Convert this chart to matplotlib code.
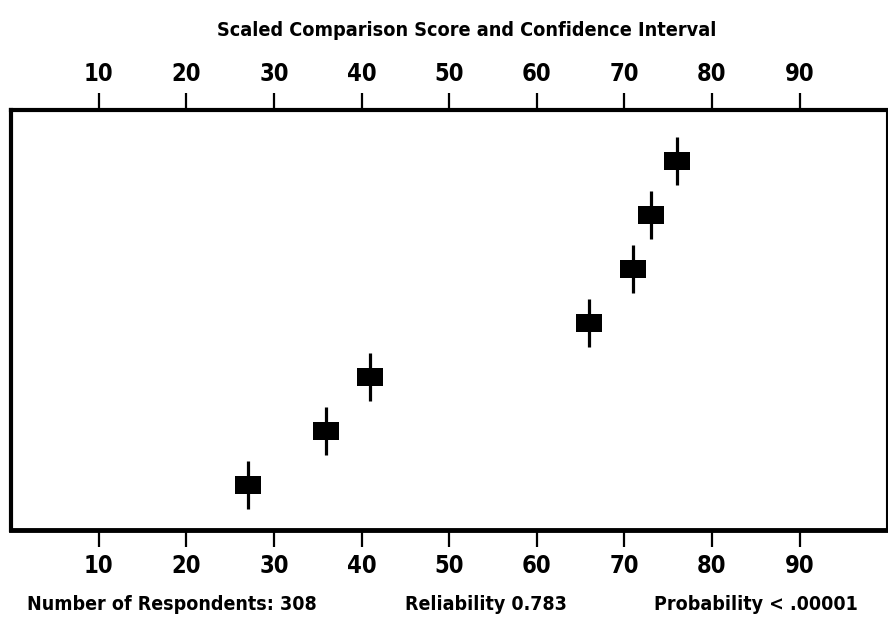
import matplotlib.pyplot as plt

# scaled comparison scores, one per row (bottom to top)
scores = [27, 36, 41, 66, 71, 73, 76]
rows = [1, 2, 3, 4, 5, 6, 7]
xticks = [10, 20, 30, 40, 50, 60, 70, 80, 90]

title = "Scaled Comparison Score and Confidence Interval"
footer = ["Number of Respondents: 308", "Reliability 0.783", "Probability < .00001"]

plt.rcParams['font.family'] = ['DejaVu Sans']
plt.rcParams['font.stretch'] = 'condensed'

fig = plt.figure(figsize=(8.88, 6.21), dpi=100)
ax = fig.add_axes([0.0125, 0.1465, 0.9865, 0.6765])

# box marker, wider than tall
box = [(-1.45, -1), (1.45, -1), (1.45, 1), (-1.45, 1), (-1.45, -1)]
ax.errorbar(scores, rows, yerr=0.44, fmt='none', ecolor='black', elinewidth=2.3, capsize=0)
ax.plot(scores, rows, linestyle='none', marker=box, markersize=19,
        color='black', markeredgewidth=0)

ax.set_xlim(0, 100)
ax.set_ylim(0.167, 7.944)
ax.set_xticks(xticks)
ax.set_yticks([])
ax.tick_params(axis='x', top=True, labeltop=True, direction='out',
               length=12, width=1.6, labelsize=17, pad=5)
for t in ax.xaxis.get_major_ticks():
    t.label1.set_fontweight('bold')
    t.label2.set_fontweight('bold')

ax.spines['left'].set_linewidth(3)
ax.spines['top'].set_linewidth(3)
ax.spines['bottom'].set_linewidth(3.5)
ax.spines['right'].set_linewidth(1.5)

fig.text(0.525, 1 - 30 / 621, title, ha='center', va='center', fontsize=14.2, fontweight='bold')
fig.text(27 / 888, 1 - 605 / 621, footer[0], ha='left', va='center', fontsize=14, fontweight='bold')
fig.text(486 / 888, 1 - 605 / 621, footer[1], ha='center', va='center', fontsize=14, fontweight='bold')
fig.text(858 / 888, 1 - 605 / 621, footer[2], ha='right', va='center', fontsize=14, fontweight='bold')

fig.savefig('out.png', dpi=100)
